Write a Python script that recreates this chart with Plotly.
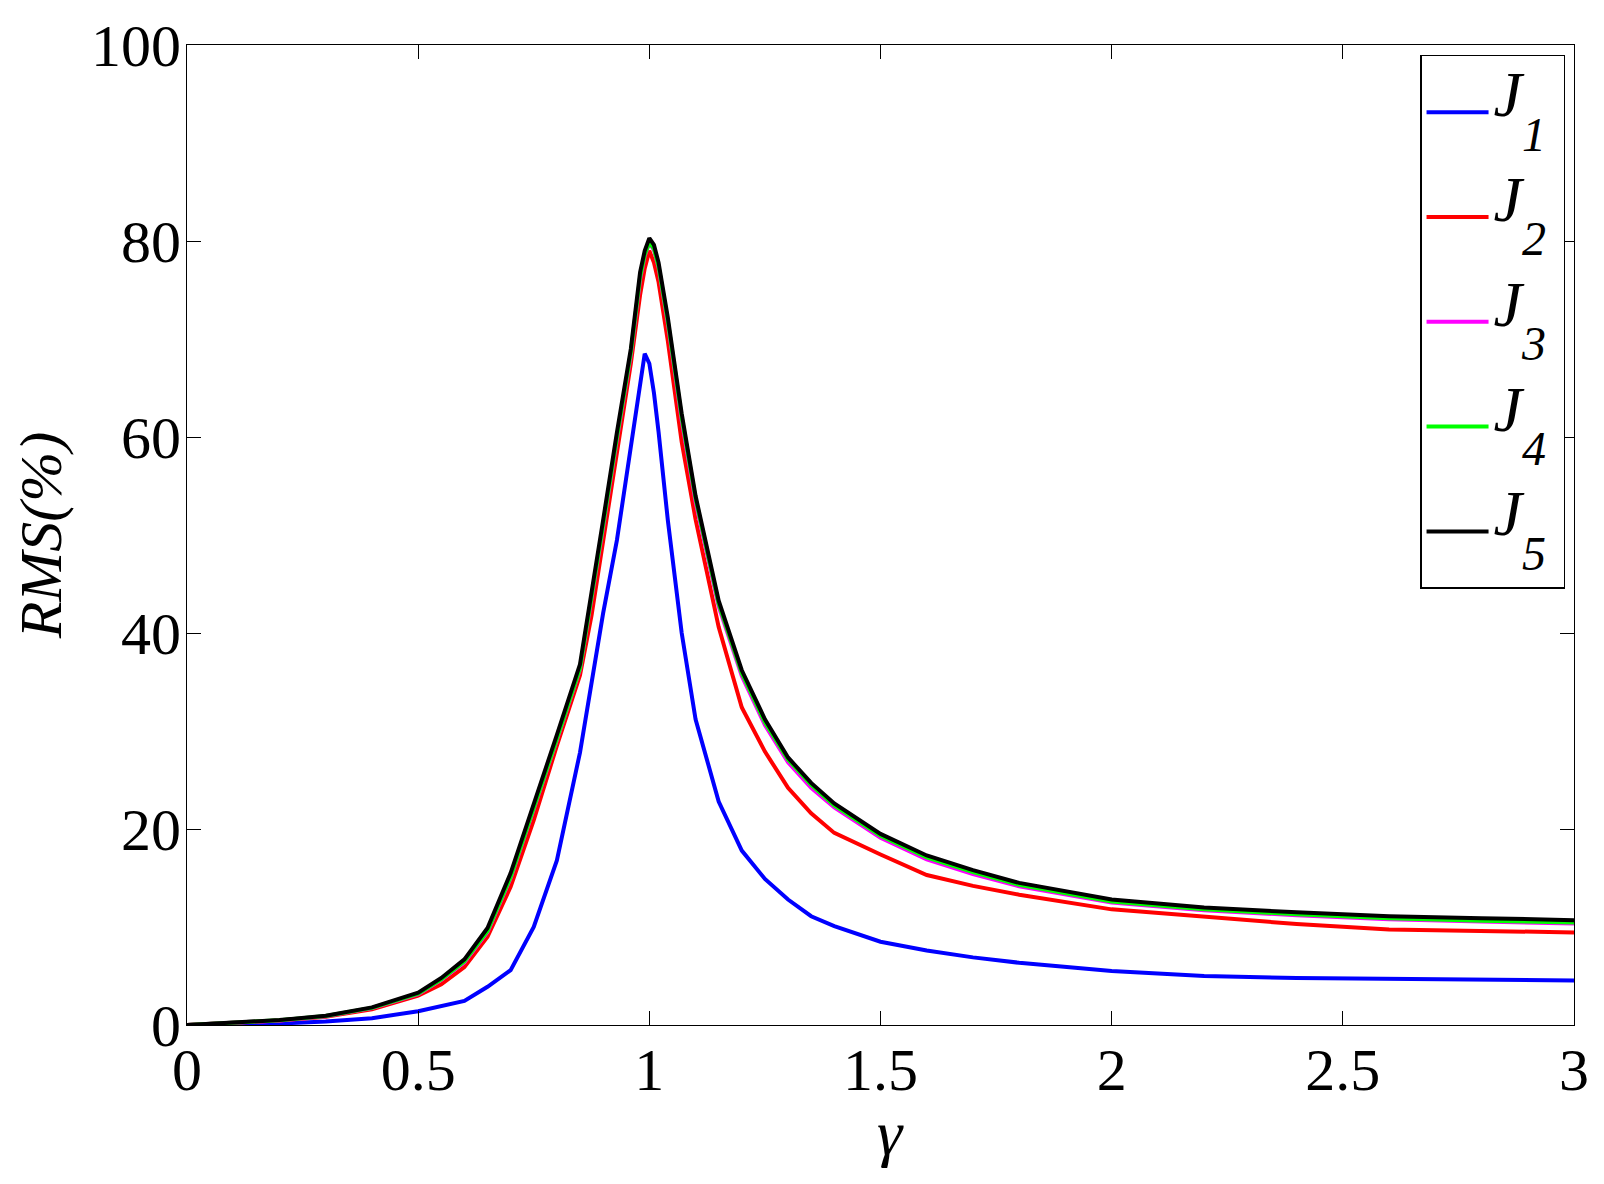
import plotly.graph_objects as go

gamma = [0.0, 0.1, 0.2, 0.3, 0.4, 0.5, 0.55, 0.6, 0.65, 0.7, 0.75, 0.8, 0.85, 0.875,
         0.9, 0.93, 0.96, 0.98, 0.99, 1.0, 1.01, 1.02, 1.04, 1.07, 1.1, 1.15, 1.2,
         1.25, 1.3, 1.35, 1.4, 1.5, 1.6, 1.7, 1.8, 2.0, 2.2, 2.4, 2.6, 2.8, 3.0]

J1 = [0.0, 0.05, 0.15, 0.35, 0.7, 1.4, 1.9, 2.45, 3.9, 5.6, 10.0, 16.8, 27.8, 35.0,
      42.0, 49.5, 58.8, 65.5, 68.5, 67.5, 64.5, 60.5, 51.5, 40.0, 31.2, 22.8, 17.8,
      14.9, 12.8, 11.1, 10.1, 8.5, 7.6, 6.9, 6.35, 5.5, 5.0, 4.8, 4.7, 4.6, 4.55]

J2 = [0.0, 0.2, 0.45, 0.85, 1.6, 3.0, 4.15, 5.9, 9.0, 14.1, 20.9, 28.5, 35.7, 41.8,
      49.5, 58.6, 67.5, 74.5, 77.2, 79.0, 77.8, 75.8, 69.8, 59.5, 51.6, 40.6, 32.4,
      27.9, 24.2, 21.6, 19.6, 17.4, 15.3, 14.2, 13.3, 11.8, 11.0, 10.3, 9.75, 9.55, 9.45]

J3 = [0.0, 0.23, 0.47, 0.9, 1.72, 3.15, 4.6, 6.4, 9.5, 15.0, 21.9, 29.1, 36.3, 43.3,
      50.8, 59.8, 68.4, 76.1, 78.5, 79.8, 79.1, 77.3, 71.6, 61.7, 53.4, 42.7, 35.6,
      30.6, 26.8, 24.2, 22.2, 19.1, 16.9, 15.4, 14.15, 12.5, 11.7, 11.2, 10.8, 10.55, 10.35]

J4 = [0.0, 0.24, 0.48, 0.92, 1.75, 3.2, 4.65, 6.5, 9.6, 15.1, 22.0, 29.2, 36.4, 43.5,
      51.0, 60.0, 68.6, 76.3, 78.6, 79.9, 79.2, 77.4, 71.8, 62.0, 53.7, 43.0, 35.9,
      30.9, 27.1, 24.5, 22.4, 19.3, 17.1, 15.6, 14.3, 12.6, 11.8, 11.3, 10.9, 10.65, 10.45]

J5 = [0.0, 0.25, 0.5, 0.95, 1.8, 3.3, 4.8, 6.7, 9.9, 15.5, 22.4, 29.6, 36.8, 44.0,
      51.5, 60.5, 69.0, 76.8, 79.0, 80.3, 79.6, 77.8, 72.2, 62.4, 54.0, 43.3, 36.2,
      31.2, 27.3, 24.7, 22.6, 19.5, 17.3, 15.8, 14.5, 12.8, 12.0, 11.5, 11.1, 10.9, 10.7]

series = [("1", J1, "#0000ff"), ("2", J2, "#ff0000"), ("3", J3, "#ff00ff"),
          ("4", J4, "#00ff00"), ("5", J5, "#000000")]

x_ticks = [0, 0.5, 1, 1.5, 2, 2.5, 3]
x_tick_labels = ["0", "0.5", "1", "1.5", "2", "2.5", "3"]
y_ticks = [0, 20, 40, 60, 80, 100]
y_tick_labels = ["0", "20", "40", "60", "80", "100"]

FONT = "Liberation Serif"


def legend_name(idx):
    # J raised toward the sample line, subscript dropped well below its baseline
    return ("<span style=\"font-size:61px\"><sup><span style=\"font-size:64px\"><i>J</i>"
            "<sub><span style=\"font-size:100px\"><sub>"
            "<span style=\"font-size:48px\"><i>" + idx + "</i></span>"
            "</sub></span></sub></span></sup></span>"
            "<span style=\"font-size:50px\">\u00a0</span>")


fig = go.Figure()
for idx, vals, col in series:
    fig.add_trace(go.Scatter(
        x=gamma, y=vals, mode="lines",
        line=dict(color=col, width=4),
        name=legend_name(idx),
        legendgroup="g" + idx,
    ))

axis_common = dict(
    showline=True, linecolor="black", linewidth=1.2, mirror="ticks",
    ticks="inside", ticklen=14, tickwidth=1, tickcolor="black",
    showgrid=False, zeroline=False, automargin=False,
    tickfont=dict(family=FONT, size=60, color="black"),
)

fig.update_layout(
    width=1588, height=1168,
    margin=dict(l=179, r=22, t=37, b=151, autoexpand=False),
    paper_bgcolor="white", plot_bgcolor="white",
    font=dict(family=FONT, color="black"),
    xaxis=dict(range=[0, 3], tickvals=x_ticks, ticktext=x_tick_labels,
               ticklabelstandoff=-8, **axis_common),
    yaxis=dict(range=[0, 100], tickvals=y_ticks, ticktext=y_tick_labels,
               title=dict(text="<i>RMS(%)</i>", font=dict(family=FONT, size=60), standoff=14),
               ticklabelstandoff=-7, **axis_common),
    annotations=[dict(
        text="<i>γ</i>", xref="paper", yref="paper", x=0.507, y=-0.11,
        xanchor="center", yanchor="middle", showarrow=False,
        font=dict(family=FONT, size=64, color="black"),
    )],
    showlegend=True,
    legend=dict(
        x=0.889, y=0.99, xanchor="left", yanchor="top",
        bgcolor="white", bordercolor="black", borderwidth=1.5,
        font=dict(family=FONT, size=76, color="black"),
        itemwidth=62, tracegroupgap=3,
    ),
)

fig.write_html("out.html")
